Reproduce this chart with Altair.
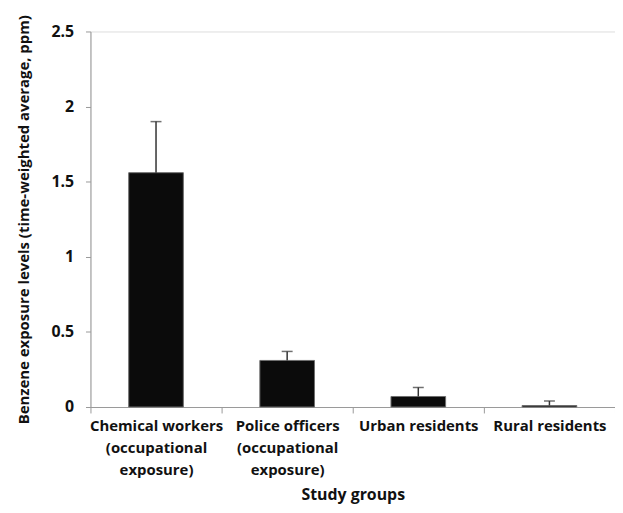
import altair as alt
import pandas as pd

groups = ["Chemical workers|(occupational|exposure)",
          "Police officers|(occupational|exposure)",
          "Urban residents",
          "Rural residents"]
means = [1.56, 0.31, 0.07, 0.01]
upper = [1.90, 0.37, 0.13, 0.04]
y_ticks = [0, 0.5, 1, 1.5, 2, 2.5]

df = pd.DataFrame({"group": groups, "mean": means, "upper": upper})

W, H = 528, 378
FONT = "Open Sans"

x = alt.X("group:N", sort=groups,
          scale=alt.Scale(paddingInner=0, paddingOuter=0),
          axis=alt.Axis(title="Study groups", labelAngle=0,
                        labelExpr="split(datum.label, '|')",
                        labelLineHeight=22, labelFontSize=15,
                        labelFontWeight="bold", labelColor="#111",
                        labelFont=FONT, labelPadding=6,
                        tickBand="extent", tickSize=6, tickColor="#999",
                        domainColor="#999", labelLimit=200,
                        titleFont=FONT, titleFontSize=16, titleFontWeight="bold",
                        titleColor="#111", titleY=88, titleBaseline="middle"))

y = alt.Y("mean:Q",
          scale=alt.Scale(domain=[0, 2.5], nice=False),
          axis=alt.Axis(title="Benzene exposure levels (time-weighted average, ppm)",
                        values=y_ticks, format="~g", grid=False,
                        labelFontSize=16, labelFontWeight="bold", labelColor="#111",
                        labelFont=FONT, labelPadding=12, tickSize=5,
                        tickColor="#999", domainColor="#999",
                        titleFont=FONT, titleFontSize=15, titleFontWeight="bold",
                        titleColor="#111", titleX=-67, titleY=H / 2,
                        titleAngle=-90, titleAlign="center", titleBaseline="middle"))

bars = alt.Chart(df).mark_bar(width=55, color="#0b0b0b", stroke="#6e6e6e",
                              strokeWidth=1).encode(x=x, y=y)

err = alt.Chart(df).mark_rule(color="#333", strokeWidth=1.5).encode(
    x=alt.X("group:N", sort=groups), y="mean:Q", y2="upper:Q")

caps = alt.Chart(df).mark_tick(color="#333", thickness=1.5, size=11).encode(
    x=alt.X("group:N", sort=groups), y="upper:Q")

chart = alt.layer(bars, err, caps).properties(
    width=W, height=H,
    autosize=alt.AutoSizeParams(type="none"),
    padding={"left": 83, "top": 22, "right": 0, "bottom": 97},
).configure_view(stroke=None).configure(background="white")

chart.save("out.html", embed_options={"renderer": "svg", "actions": False})
